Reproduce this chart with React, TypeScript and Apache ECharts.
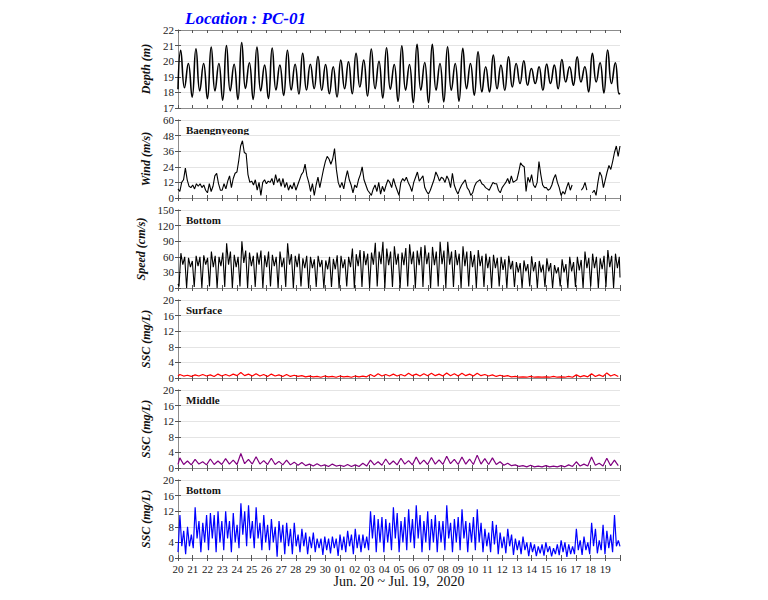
import React, { useEffect, useRef } from "react";
import * as echarts from "echarts";

// ---------- data ----------
const DAY_LABELS = ["20","21","22","23","24","25","26","27","28","29","30","01","02","03","04","05","06","07","08","09","10","11","12","13","14","15","16","17","18","19"];
const TOTAL_HOURS = 720; // Jun 20 00:00 -> Jul 20 00:00
const HALF_TIDE_H = 6.21;
const QUARTER_TIDE_H = 3.105;

// Water depth (m): successive high/low waters
const DEPTH_T0_H = 4.4;
const DEPTH_START = 18.2;
const DEPTH_END = 17.95;
const DEPTH_EXTREMA = [
  20.7,18.3,19.85,17.7,20.8,18.1,19.85,17.6,20.9,18.1,
  19.85,17.5,21.0,18.1,19.8,17.55,21.2,18.25,19.9,17.55,
  20.9,18.1,19.75,17.6,20.85,18.15,19.75,17.8,20.7,18.15,
  19.8,17.9,20.5,18.15,19.8,18.25,20.3,18.14,19.79,17.92,
  19.64,17.71,20.07,18.24,19.96,17.92,20.5,18.35,20.07,17.77,
  20.78,18.24,20.0,17.64,20.86,18.2,19.79,17.43,20.99,18.14,
  19.79,17.34,21.08,18.14,19.92,17.34,21.08,18.14,19.85,17.39,
  20.93,18.14,19.85,17.43,20.82,18.24,19.85,17.82,20.6,18.03,
  19.64,18.03,20.39,18.24,19.75,18.14,20.28,18.35,19.85,18.57,
  20.03,18.46,19.53,18.57,19.64,18.14,19.81,18.57,19.75,18.24,
  20.11,18.67,19.64,18.46,20.28,18.67,19.64,18.03,20.5,18.67,
  19.9,17.97,20.71,18.57,19.9,17.9,
];

// Wind at Baengnyeong (m/s), every 3 hours
const WIND_STEP_H = 3;
const WIND = [
  7,5,12,14,23,14,9,8,
  10,7,11,9,11,8,10,6,
  4,11,5,9,17,19,11,6,
  6,11,7,13,17,8,15,19,
  20,29,40,44,35,34,18,12,
  13,10,14,6,12,2,12,14,
  11,13,12,15,10,18,12,15,
  9,15,8,12,6,10,7,12,
  6,10,14,18,20,26,17,12,
  5,11,2,10,16,8,15,22,
  28,32,30,26,30,38,22,12,
  8,12,7,15,21,14,10,4,
  10,8,14,18,24,14,10,6,
  4,2,7,10,5,12,3,9,
  5,10,14,12,8,15,10,6,
  2,12,15,13,16,12,9,5,
  12,16,20,13,15,17,8,5,
  3,6,10,14,20,17,13,16,
  15,12,17,14,8,19,10,6,
  3,7,10,12,14,8,6,2,
  4,9,12,13,14,11,10,8,
  7,6,9,12,11,11,6,4,
  8,10,12,15,11,17,12,13,
  14,20,27,25,24,5,16,12,
  18,10,8,12,28,18,10,8,
  8,6,7,10,15,18,12,8,
  2,5,3,8,12,6,10,null,
  null,null,null,6,8,12,6,null,
  null,4,6,2,12,20,17,8,
  14,20,25,22,28,35,40,32,
  40,
];

// Bottom current speed (cm/s): per tidal cycle [slack, peak, mid, peak]
const SPEED_T0_H = 1.6;
const SPEED_START = 8;
const SPEED_END = 20;
const SPEED_CYCLES = [
  [3,67,45,60],[0,58,40,52],[2,62,42,60],[0,63,45,58],[3,70,40,62],
  [0,60,42,68],[2,86,45,70],[0,64,40,60],[3,90,48,72],[0,68,42,62],
  [2,68,45,72],[0,63,40,70],[3,64,42,60],[0,70,40,58],[2,86,45,65],
  [0,62,40,66],[3,57,38,62],[0,60,38,55],[2,62,40,54],[0,53,36,60],
  [2,56,36,63],[0,62,38,55],[3,60,40,76],[0,65,42,73],[2,71,44,66],
  [0,68,45,87],[3,70,46,89],[0,76,44,70],[2,80,45,66],[0,68,44,77],
  [3,84,46,70],[0,72,44,79],[2,82,46,68],[0,79,44,70],[3,89,46,72],
  [0,89,45,70],[2,73,44,66],[0,80,42,70],[3,71,40,64],[0,73,42,62],
  [2,66,38,60],[0,64,38,58],[3,60,35,55],[0,62,36,52],[2,50,30,48],
  [0,53,32,46],[3,61,32,50],[0,52,30,45],[2,57,32,48],[0,44,28,40],
  [3,55,30,46],[0,60,32,50],[2,60,34,54],[0,70,38,58],[3,66,38,60],
  [0,57,36,62],[2,73,40,62],[0,66,38,60],
];

// SSC surface / middle (mg/L): successive [peak, trough] every half tide
const SSC_T0_H = 3;
const SURFACE_START = 0.5;
const SURFACE_SSC = [
  0.9,0.5, 0.7,0.4, 0.8,0.5, 0.9,0.5, 0.8,0.4, 1.0,0.5, 0.9,0.5, 1.0,0.6,
  1.4,0.6, 1.0,0.5, 1.1,0.5, 0.9,0.4, 1.0,0.5, 0.8,0.4, 0.9,0.4, 0.7,0.4,
  0.6,0.3, 0.5,0.3, 0.4,0.2, 0.5,0.3, 0.4,0.2, 0.5,0.3, 0.4,0.2, 0.5,0.3, 0.5,0.3,
  0.9,0.4, 1.1,0.5, 0.9,0.5, 1.0,0.5, 0.9,0.5, 1.2,0.6, 1.0,0.5, 1.1,0.6,
  1.2,0.6, 1.0,0.5, 1.3,0.6, 1.1,0.5, 1.2,0.6, 1.0,0.5,
  1.2,0.6, 0.9,0.5, 0.8,0.4, 0.7,0.4, 0.6,0.3,
  0.4,0.2, 0.3,0.2, 0.4,0.2, 0.3,0.2, 0.3,0.2, 0.4,0.2, 0.3,0.2, 0.4,0.2,
  0.8,0.3, 0.6,0.3, 1.1,0.4, 0.8,0.4, 1.3,0.5, 0.9,0.4,
];
const MIDDLE_START = 0.9;
const MIDDLE_SSC = [
  2.6,0.9, 1.8,0.8, 2.2,1.0, 1.6,0.8, 2.3,0.9, 1.8,0.9, 2.4,1.0, 2.0,0.9,
  3.7,1.1, 2.2,1.0, 2.9,1.0, 1.9,0.9, 2.5,0.9, 1.7,0.8, 2.0,0.8, 1.5,0.7,
  1.4,0.6, 1.0,0.5, 1.1,0.5, 0.8,0.4, 1.0,0.5, 0.7,0.4, 0.9,0.4, 0.8,0.4, 1.2,0.5,
  2.0,0.8, 1.6,0.7, 2.3,0.9, 1.8,0.8, 2.5,1.0, 1.9,0.8, 2.8,1.0, 2.0,0.9,
  2.7,1.0, 2.1,0.9, 3.0,1.1, 2.2,0.9, 2.8,1.0, 2.3,0.9,
  3.3,1.0, 2.4,0.9, 2.6,0.9, 1.6,0.7, 1.2,0.6,
  0.8,0.4, 0.6,0.3, 0.7,0.3, 0.5,0.3, 0.6,0.3, 0.5,0.3, 0.6,0.3, 0.8,0.4,
  1.6,0.5, 1.0,0.5, 2.8,0.7, 1.2,0.5, 2.5,0.6, 2.0,0.6,
];

// SSC bottom (mg/L): per tidal cycle [trough, peak, mid, peak]
const BOTTOM_END = 3;
const BOTTOM_SSC_CYCLES = [
  [1.5,11,3,7],[1.0,8,3,6],[2.5,13,5,9.5],[1.5,9,4,11],[2.0,11.5,5,11],
  [1.5,12,4,9.5],[2.0,12,5,9.5],[1.5,11.5,4,8.5],[2.5,14,6,12],[3.0,13.5,5,9.5],
  [2.5,13,5,9],[2.0,11,4,8.5],[2.0,10,4,8],[0.3,9.5,4,8.5],[1.0,9,3,7.5],
  [1.0,9,3,6],[1.5,7.5,3,6.5],[1.0,5.5,2.5,6.5],[1.5,5,2.5,5],[0.8,5.5,2,5],
  [1.2,5.5,2.5,5],[0.5,6,2,5.5],[1.5,7,3,6],[1.0,7.5,2.5,6],[1.5,6,2.5,5.5],
  [2.0,12,5,11],[1.5,10,4,10.5],[1.5,10,4,9],[2.0,13,5,11.5],[1.5,9.5,4,10.5],
  [2.0,12.5,4,10],[2.5,13.5,5,11],[1.5,9.5,4,12],[2.0,10,4,11],[1.5,9.5,4,9.5],
  [2.0,13.5,5,9],[1.5,10,4,10.5],[2.0,12.5,5,9.5],[1.5,9,4,10.5],[2.0,12.5,4,9],
  [1.5,7.5,3,6.5],[1.5,9.5,3.5,8.5],[1.0,6.5,2.5,5.5],[1.2,7.5,3,6],[0.8,5,2,4.5],
  [1.0,5.5,2,4],[0.5,4,1.5,3.5],[0.5,3,1.2,3.5],[0.6,4,1.5,3],[0.4,2.5,1,3.5],
  [0.7,4.5,1.5,4],[0.3,3.5,1,3],[1.0,7.5,2,4.5],[0.8,5.5,2,4],[1.0,9,3,7.5],
  [1.2,4.5,2,8.5],[1.0,7,2.5,6],[1.5,11,3,4.5],
];

// ---------- helpers ----------
const onGrid = (vals: (number | null)[], t0: number, step: number) =>
  vals.map((v, i) => [t0 + i * step, v]);

const depthData = [[0, DEPTH_START], ...onGrid(DEPTH_EXTREMA, DEPTH_T0_H, HALF_TIDE_H), [TOTAL_HOURS, DEPTH_END]];
const windData = onGrid(WIND, 0, WIND_STEP_H);
const speedData = [[0, SPEED_START], ...onGrid(SPEED_CYCLES.flat(), SPEED_T0_H, QUARTER_TIDE_H), [TOTAL_HOURS, SPEED_END]];
const surfaceData = [[0, SURFACE_START], ...onGrid(SURFACE_SSC, SSC_T0_H, HALF_TIDE_H)];
const middleData = [[0, MIDDLE_START], ...onGrid(MIDDLE_SSC, SSC_T0_H, HALF_TIDE_H)];
const bottomData = [...onGrid(BOTTOM_SSC_CYCLES.flat(), 0, QUARTER_TIDE_H), [TOTAL_HOURS, BOTTOM_END]];

const FONT = "'Liberation Serif', 'Times New Roman', serif";
const TOPS = [30, 120, 210, 300, 390, 480];
const PANEL_H = 78;
const LEFT = 178;
const WIDTH = 442;

const PANELS = [
  { name: "Depth (m)", min: 17, max: 22, interval: 1, data: depthData, color: "#000000", width: 1.6, smooth: 0.5, label: "" },
  { name: "Wind (m/s)", min: 0, max: 60, interval: 12, data: windData, color: "#000000", width: 1.1, smooth: false, label: "Baengnyeong" },
  { name: "Speed (cm/s)", min: 0, max: 150, interval: 30, data: speedData, color: "#000000", width: 1.1, smooth: false, label: "Bottom" },
  { name: "SSC (mg/L)", min: 0, max: 20, interval: 4, data: surfaceData, color: "#ff0000", width: 1.2, smooth: false, label: "Surface" },
  { name: "SSC (mg/L)", min: 0, max: 20, interval: 4, data: middleData, color: "#800080", width: 1.2, smooth: false, label: "Middle" },
  { name: "SSC (mg/L)", min: 0, max: 20, interval: 4, data: bottomData, color: "#0000ff", width: 1.2, smooth: false, label: "Bottom" },
];

export default function App() {
  const ref = useRef<HTMLDivElement>(null);
  useEffect(() => {
    if (!ref.current) return;
    const chart = echarts.init(ref.current, null, { renderer: "svg" });
    const frame = { show: true, lineStyle: { color: "#8c8c8c", width: 1 } };
    const tick = { show: true, inside: true, length: 3, lineStyle: { color: "#555", width: 1 } };
    const xAxis: any[] = [];
    const yAxis: any[] = [];
    const series: any[] = [];
    PANELS.forEach((p, i) => {
      xAxis.push({
        type: "value", gridIndex: i, min: 0, max: TOTAL_HOURS, interval: 24, position: "bottom",
        axisLine: frame, axisTick: tick, splitLine: { show: false },
        axisLabel: {
          show: i === PANELS.length - 1, margin: 5, fontFamily: FONT, fontSize: 11, color: "#222",
          formatter: (v: number) => DAY_LABELS[Math.round(v / 24)] ?? "",
        },
      });
      xAxis.push({
        type: "value", gridIndex: i, min: 0, max: TOTAL_HOURS, interval: 24, position: "top",
        axisLine: frame, axisTick: tick, splitLine: { show: false }, axisLabel: { show: false },
      });
      yAxis.push({
        type: "value", gridIndex: i, min: p.min, max: p.max, interval: p.interval, position: "left",
        name: p.name, nameLocation: "middle", nameGap: 17, nameRotate: 90,
        nameTextStyle: { fontFamily: FONT, fontWeight: "bold", fontStyle: "italic", fontSize: 12, color: "#111" },
        axisLine: frame, axisTick: tick,
        axisLabel: { margin: 4, fontFamily: FONT, fontSize: 11, color: "#222" },
        splitLine: { show: true, lineStyle: { color: "#e4e4e4", width: 1 } },
      });
      yAxis.push({
        type: "value", gridIndex: i, min: p.min, max: p.max, interval: p.interval, position: "right",
        axisLine: frame, axisTick: tick, axisLabel: { show: false }, splitLine: { show: false },
      });
      series.push({
        type: "line", xAxisIndex: 2 * i, yAxisIndex: 2 * i, data: p.data,
        showSymbol: false, smooth: p.smooth, connectNulls: false,
        lineStyle: { color: p.color, width: p.width }, silent: true,
      });
    });
    const graphic: any[] = [
      {
        type: "text", x: 185, y: 10,
        style: { text: "Location : PC-01", fill: "#0000ff", font: `italic bold 17px ${FONT}`, textAlign: "left", textVerticalAlign: "top" },
      },
      {
        type: "text", x: 399, y: 581,
        style: { text: "Jun. 20 ~ Jul. 19,  2020", fill: "#111", font: `14px ${FONT}`, textAlign: "center", textVerticalAlign: "middle" },
      },
    ];
    PANELS.forEach((p, i) => {
      if (p.label) {
        graphic.push({
          type: "text", x: 186, y: TOPS[i] + 4,
          style: { text: p.label, fill: "#111", font: `bold 11px ${FONT}`, textAlign: "left", textVerticalAlign: "top" },
        });
      }
    });
    chart.setOption({
      animation: false,
      backgroundColor: "#ffffff",
      grid: TOPS.map((top) => ({ left: LEFT, width: WIDTH, top, height: PANEL_H, show: false })),
      xAxis,
      yAxis,
      series,
      graphic,
    });
    return () => chart.dispose();
  }, []);
  return <div ref={ref} style={{ position: "fixed", left: 0, top: 0, width: 768, height: 600 }} />;
}
